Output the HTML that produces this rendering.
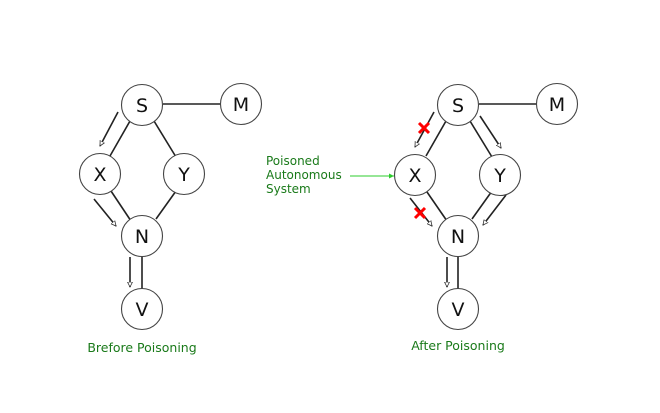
<!DOCTYPE html>
<html><head><meta charset="utf-8"><style>
html,body{margin:0;padding:0;background:#fff;}
svg{display:block;}
text{font-family:"DejaVu Sans","Liberation Sans",sans-serif;}
</style></head><body>
<svg width="660" height="413" viewBox="0 0 660 413" xmlns="http://www.w3.org/2000/svg">
<defs>
<marker id="ah" markerWidth="6" markerHeight="6" refX="5" refY="3" orient="auto" markerUnits="userSpaceOnUse">
<path d="M0,0.5 L5,3 L0,5.5 Z" fill="#fff" stroke="#333" stroke-width="0.8"/>
</marker>
<marker id="gh" markerWidth="6" markerHeight="6" refX="5" refY="3" orient="auto" markerUnits="userSpaceOnUse">
<path d="M0,0.5 L5,3 L0,5.5 Z" fill="#2ecc2e"/>
</marker>
</defs>
<g stroke="#222" stroke-width="1.6" fill="none">
<line x1="163" y1="104" x2="221" y2="104"/>
<line x1="130" y1="121" x2="110" y2="156"/>
<line x1="154" y1="121" x2="176" y2="157"/>
<line x1="111" y1="191" x2="131" y2="221"/>
<line x1="176" y1="191" x2="156" y2="219"/>
<line x1="142" y1="257" x2="142" y2="289"/>
<line x1="118" y1="112" x2="100" y2="146" marker-end="url(#ah)"/>
<line x1="94" y1="199" x2="116" y2="226" marker-end="url(#ah)"/>
<line x1="130" y1="257" x2="130" y2="287" marker-end="url(#ah)"/>
<line x1="479" y1="104" x2="537" y2="104"/>
<line x1="446" y1="121" x2="426" y2="156"/>
<line x1="470" y1="121" x2="492" y2="157"/>
<line x1="427" y1="192" x2="447" y2="221"/>
<line x1="492" y1="191" x2="472" y2="219"/>
<line x1="458" y1="257" x2="458" y2="289"/>
<line x1="434" y1="112" x2="415" y2="147" marker-end="url(#ah)"/>
<line x1="410" y1="198" x2="432" y2="226" marker-end="url(#ah)"/>
<line x1="480" y1="116" x2="501" y2="148" marker-end="url(#ah)"/>
<line x1="506" y1="195" x2="483" y2="225" marker-end="url(#ah)"/>
<line x1="447" y1="257" x2="447" y2="287" marker-end="url(#ah)"/>
</g>
<g stroke="#444" stroke-width="1.1" fill="#fff">
<circle cx="142" cy="105" r="20.5"/><circle cx="241" cy="104" r="20.5"/>
<circle cx="100" cy="174" r="20.5"/><circle cx="184" cy="174" r="20.5"/>
<circle cx="142" cy="236" r="20.5"/><circle cx="142" cy="309" r="20.5"/>
<circle cx="458" cy="105" r="20.5"/><circle cx="557" cy="104" r="20.5"/>
<circle cx="415" cy="175" r="20.5"/><circle cx="500" cy="175" r="20.5"/>
<circle cx="458" cy="236" r="20.5"/><circle cx="458" cy="309" r="20.5"/>
</g>
<g font-size="19" fill="#111" text-anchor="middle">
<text x="142" y="112">S</text><text x="241" y="111">M</text>
<text x="100" y="181">X</text><text x="184" y="181">Y</text>
<text x="142" y="243">N</text><text x="142" y="316">V</text>
<text x="458" y="112">S</text><text x="557" y="111">M</text>
<text x="415" y="182">X</text><text x="500" y="182">Y</text>
<text x="458" y="243">N</text><text x="458" y="316">V</text>
</g>
<g stroke="#f00" stroke-width="3">
<line x1="419" y1="123" x2="429" y2="133"/><line x1="429" y1="123" x2="419" y2="133"/>
<line x1="415" y1="208" x2="425" y2="218"/><line x1="425" y1="208" x2="415" y2="218"/>
</g>
<g fill="#1a7a1a" font-size="12">
<text x="266" y="165">Poisoned</text>
<text x="266" y="179">Autonomous</text>
<text x="266" y="193">System</text>
<text x="142" y="352" text-anchor="middle" font-size="12.5">Brefore Poisoning</text>
<text x="458" y="350" text-anchor="middle" font-size="12.5">After Poisoning</text>
</g>
<line x1="350" y1="176" x2="394" y2="176" stroke="#2ecc2e" stroke-width="1.1" marker-end="url(#gh)"/>
</svg>
</body></html>
